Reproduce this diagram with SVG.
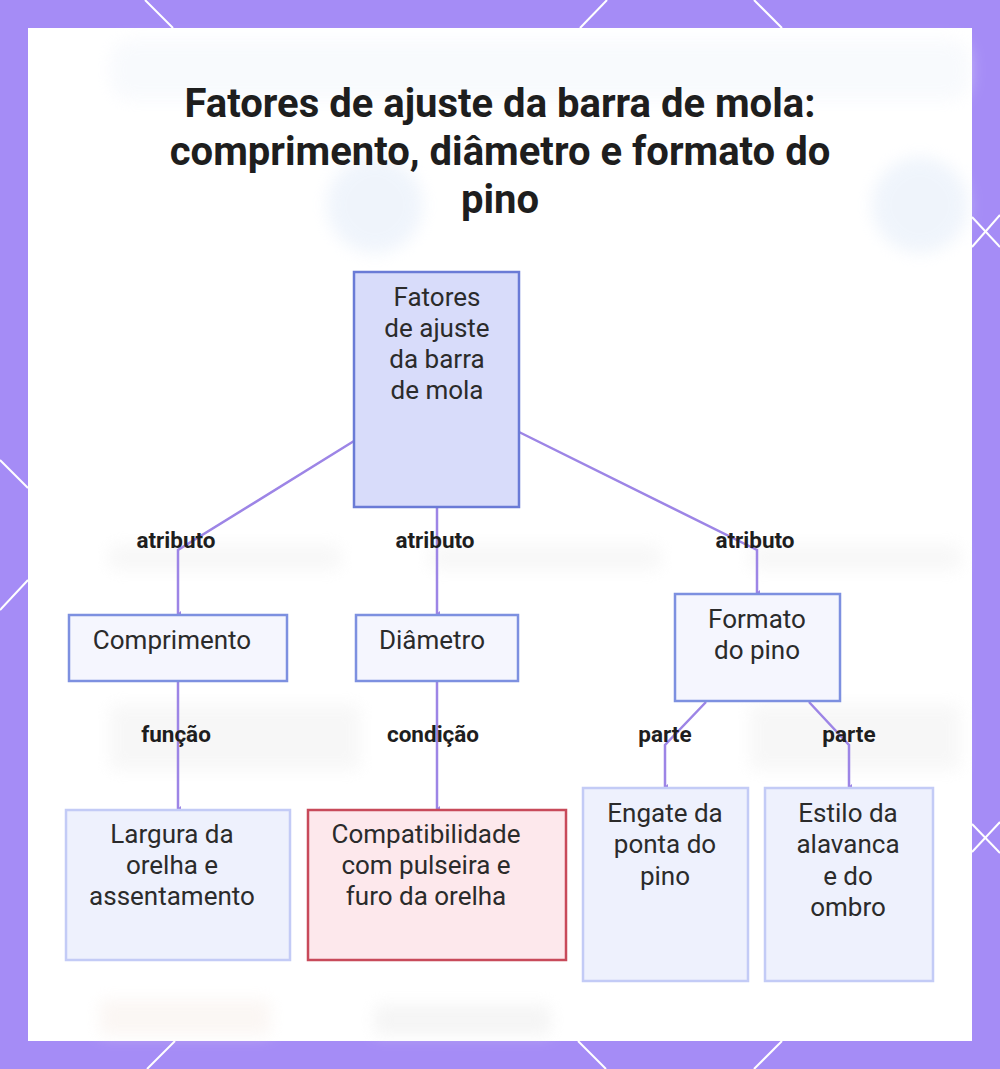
<svg xmlns="http://www.w3.org/2000/svg" width="1000" height="1069" viewBox="0 0 1000 1069">
  <defs>
    <style>
      .title { font-family: Roboto, "Liberation Sans", sans-serif; font-weight: 700; font-size: 40px; fill: #1e1e1e; text-anchor: middle; }
      .nt { font-family: Roboto, "Liberation Sans", sans-serif; font-size: 26px; fill: #2b2b2b; text-anchor: middle; }
      .lbl { font-family: Roboto, "Liberation Sans", sans-serif; font-weight: 700; font-size: 22.5px; fill: #1e1e1e; text-anchor: middle; }
      .edge { fill: none; stroke: #9d85e6; stroke-width: 2.5; }
      .deco { stroke: #ffffff; stroke-width: 2; }
      .root { fill: #d8dcfa; stroke: #6a7bd6; stroke-width: 2.5; }
      .mid { fill: #f5f6fe; stroke: #7d90e0; stroke-width: 2.5; }
      .leaf { fill: #eef1fd; stroke: #c3cbf6; stroke-width: 2.5; }
      .warn { fill: #fde8ec; stroke: #c84a5a; stroke-width: 2.5; }
    </style>
    <filter id="blur" x="-20%" y="-50%" width="140%" height="200%">
      <feGaussianBlur stdDeviation="8"/>
    </filter>
    <marker id="arr" markerWidth="6" markerHeight="6" refX="3" refY="5" orient="auto-start-reverse" markerUnits="userSpaceOnUse" viewBox="0 0 6 6">
      <path d="M0,2 L3,6 L6,2" fill="#9d85e6"/>
    </marker>
  </defs>

  <!-- frame -->
  <rect x="0" y="0" width="1000" height="1069" fill="#a58cf6"/>
  <g class="deco">
    <line x1="145" y1="0" x2="173" y2="28"/>
    <line x1="607" y1="0" x2="580" y2="28"/>
    <line x1="754" y1="0" x2="782" y2="28"/>
    <line x1="147" y1="1069" x2="175" y2="1041"/>
    <line x1="578" y1="1041" x2="606" y2="1069"/>
    <line x1="782" y1="1041" x2="754" y2="1069"/>
    <line x1="0" y1="460" x2="28" y2="488"/>
    <line x1="28" y1="580" x2="0" y2="610"/>
    <line x1="972" y1="217" x2="1000" y2="247"/>
    <line x1="972" y1="247" x2="1000" y2="215"/>
    <line x1="972" y1="824" x2="1000" y2="853"/>
    <line x1="972" y1="852" x2="1000" y2="822"/>
  </g>
  <rect x="28" y="28" width="944" height="1013" fill="#ffffff"/>

  <!-- faint blurred backdrop -->
  <g filter="url(#blur)" opacity="0.45">
    <circle cx="375" cy="205" r="48" fill="#dde8f8"/>
    <circle cx="920" cy="205" r="48" fill="#dde8f8"/>
    <rect x="110" y="40" width="860" height="60" rx="20" fill="#f0f4fb"/>
    <rect x="110" y="545" width="230" height="25" fill="#eeeeee"/>
    <rect x="430" y="545" width="230" height="25" fill="#eeeeee"/>
    <rect x="750" y="545" width="210" height="25" fill="#eeeeee"/>
    <rect x="110" y="705" width="250" height="65" fill="#eeeeee"/>
    <rect x="750" y="705" width="210" height="65" fill="#eeeeee"/>
    <rect x="100" y="1000" width="170" height="35" fill="#f6ece6"/>
    <rect x="375" y="1005" width="175" height="30" fill="#e8e8e8"/>
  </g>

  <!-- title -->
  <text class="title" x="500" y="117">Fatores de ajuste da barra de mola:</text>
  <text class="title" x="500" y="165">comprimento, diâmetro e formato do</text>
  <text class="title" x="500" y="213">pino</text>

  <!-- connectors -->
  <g id="connectors">
    <path class="edge" d="M354,441 L178,550 L178,614" marker-end="url(#arr)"/>
    <path class="edge" d="M437,507 L437,614" marker-end="url(#arr)"/>
    <path class="edge" d="M519,432 L757,550 L757,593" marker-end="url(#arr)"/>
    <path class="edge" d="M178,681 L178,809" marker-end="url(#arr)"/>
    <path class="edge" d="M437,681 L437,809" marker-end="url(#arr)"/>
    <path class="edge" d="M706,702 L665,745 L665,787" marker-end="url(#arr)"/>
    <path class="edge" d="M809,702 L849,745 L849,787" marker-end="url(#arr)"/>
    <text class="lbl" x="176" y="548">atributo</text>
    <text class="lbl" x="435" y="548">atributo</text>
    <text class="lbl" x="755" y="548">atributo</text>
    <text class="lbl" x="176" y="742">função</text>
    <text class="lbl" x="433" y="742">condição</text>
    <text class="lbl" x="665" y="742">parte</text>
    <text class="lbl" x="849" y="742">parte</text>
  </g>

  <!-- nodes -->
  <g id="root">
    <rect class="root" x="354" y="272" width="165" height="235"/>
    <text class="nt" x="437" y="306">Fatores</text>
    <text class="nt" x="437" y="337">de ajuste</text>
    <text class="nt" x="437" y="368">da barra</text>
    <text class="nt" x="437" y="399">de mola</text>
  </g>
  <g id="comprimento">
    <rect class="mid" x="69" y="615" width="218" height="66"/>
    <text class="nt" x="172" y="649">Comprimento</text>
  </g>
  <g id="diametro">
    <rect class="mid" x="356" y="615" width="162" height="66"/>
    <text class="nt" x="432" y="649">Diâmetro</text>
  </g>
  <g id="formato">
    <rect class="mid" x="675" y="594" width="165" height="107"/>
    <text class="nt" x="757" y="628">Formato</text>
    <text class="nt" x="757" y="659">do pino</text>
  </g>
  <g id="largura">
    <rect class="leaf" x="66" y="810" width="224" height="150"/>
    <text class="nt" x="172" y="843">Largura da</text>
    <text class="nt" x="172" y="874">orelha e</text>
    <text class="nt" x="172" y="905">assentamento</text>
  </g>
  <g id="compatibilidade">
    <rect class="warn" x="308" y="810" width="258" height="150"/>
    <text class="nt" x="426" y="843">Compatibilidade</text>
    <text class="nt" x="426" y="874">com pulseira e</text>
    <text class="nt" x="426" y="905">furo da orelha</text>
  </g>
  <g id="engate">
    <rect class="leaf" x="583" y="788" width="165" height="193"/>
    <text class="nt" x="665" y="822">Engate da</text>
    <text class="nt" x="665" y="853">ponta do</text>
    <text class="nt" x="665" y="885">pino</text>
  </g>
  <g id="estilo">
    <rect class="leaf" x="765" y="788" width="168" height="193"/>
    <text class="nt" x="848" y="822">Estilo da</text>
    <text class="nt" x="848" y="853">alavanca</text>
    <text class="nt" x="848" y="885">e do</text>
    <text class="nt" x="848" y="916">ombro</text>
  </g>
</svg>
